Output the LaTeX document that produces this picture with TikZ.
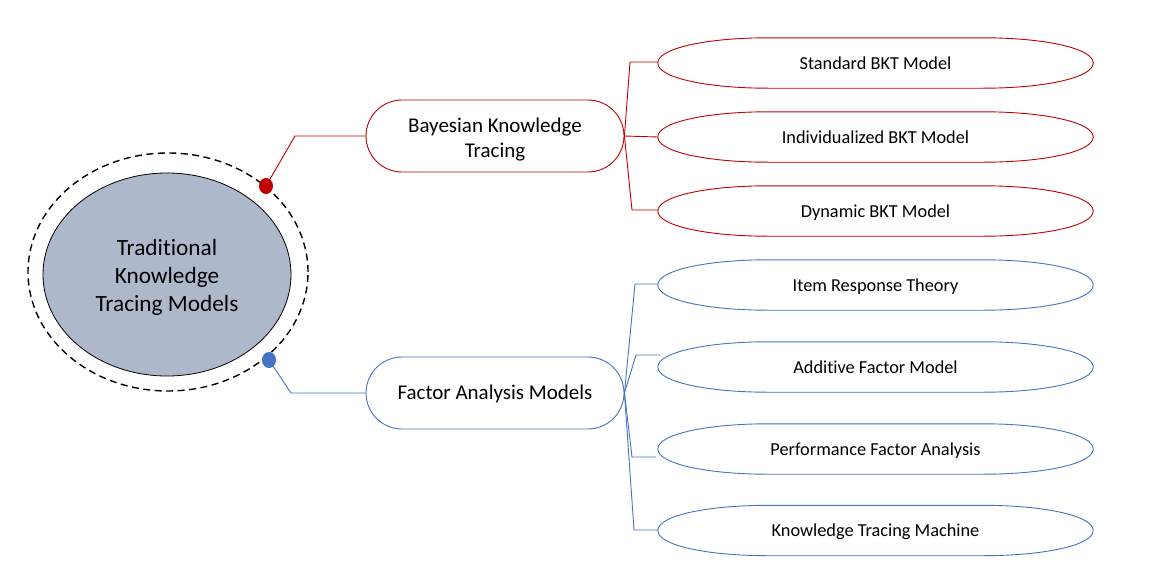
\documentclass[tikz,border=0pt]{standalone}
\usepackage{fontspec}
\setmainfont{Carlito}[Ligatures=NoCommon]
\usetikzlibrary{shapes.misc,shapes.geometric,calc}
\definecolor{kred}{HTML}{C00000}
\definecolor{kblue}{HTML}{4472C4}
\definecolor{kfill}{HTML}{ADB9CA}
\newcommand{\leafoutline}[2]{%
  \draw[#2] (#1.west) .. controls ($(#1.west)+(0,-15)$) and ($(#1.north west)+(50,0)$) .. ($(#1.north west)+(110,0)$)
    -- ($(#1.north east)+(-110,0)$) .. controls ($(#1.north east)+(-50,0)$) and ($(#1.east)+(0,-15)$) .. (#1.east)
    .. controls ($(#1.east)+(0,15)$) and ($(#1.south east)+(-50,0)$) .. ($(#1.south east)+(-110,0)$)
    -- ($(#1.south west)+(110,0)$) .. controls ($(#1.south west)+(50,0)$) and ($(#1.west)+(0,15)$) .. (#1.west) -- cycle;}
\begin{document}
\begin{tikzpicture}[x=1pt,y=-1pt,
  leafbox/.style={rectangle,draw=none,minimum width=435pt,minimum height=50pt,inner sep=0pt,text height=12.2pt,text depth=0pt,font=\fontsize{18.3}{22}\selectfont},
  midbox/.style={rounded rectangle,minimum width=258pt,minimum height=72pt,inner sep=0pt,line width=0.9pt,fill=white,align=center,font=\fontsize{21}{25}\selectfont},
  redline/.style={kred,line width=0.9pt},
  blueline/.style={kblue,line width=0.9pt},
  dotmark/.style={ellipse,minimum width=14pt,minimum height=16pt,inner sep=0pt}
]
\useasboundingbox (0,0) rectangle (1150,570);
% central
\node[ellipse,draw=black,dashed,dash pattern=on 7pt off 4.5pt,line width=1.4pt,minimum width=280pt,minimum height=238pt,inner sep=0pt] (outer) at (168,272) {};
\node[ellipse,draw=black,fill=kfill,line width=0.8pt,minimum width=248pt,minimum height=203pt,inner sep=0pt] (center) at (167,274.5) {};
\node[align=center,font=\fontsize{23.3}{28}\selectfont,inner sep=0pt] (ctext) at (167,277.5) {Traditional\\Knowledge\\Tracing Models};
% dots
\node[dotmark,fill=kred] (rdot) at (266,186) {};
\node[dotmark,fill=kblue] (bdot) at (269,360) {};
% mid nodes
\node[midbox,draw=kred] (bkt) at (495,136) {};
\node[align=center,font=\fontsize{21}{25}\selectfont,inner sep=0pt] (bkttext) at (495,139.5) {Bayesian Knowledge\\Tracing};
\node[midbox,draw=kblue,text height=13.8pt,text depth=0pt] (fam) at (495,393) {Factor Analysis Models};
% leaves
\node[leafbox] (l1) at (875.5,63) {Standard BKT Model};
\node[leafbox] (l2) at (875.5,137) {Individualized BKT Model};
\node[leafbox] (l3) at (875.5,211) {Dynamic BKT Model};
\node[leafbox] (l4) at (875.5,285) {Item Response Theory};
\node[leafbox] (l5) at (875.5,367) {Additive Factor Model};
\node[leafbox] (l6) at (875.5,449) {Performance Factor Analysis};
\node[leafbox] (l7) at (875.5,530.5) {Knowledge Tracing Machine};
\leafoutline{l1}{redline}
\leafoutline{l2}{redline}
\leafoutline{l3}{redline}
\leafoutline{l4}{blueline}
\leafoutline{l5}{blueline}
\leafoutline{l6}{blueline}
\leafoutline{l7}{blueline}
% connectors center to mid
\coordinate (rk) at (295,136);
\coordinate (bk) at (291,393);
\draw[redline] (rdot.center) -- (rk) -- (bkt.west);
\draw[blueline] (bdot.center) -- (bk) -- (fam.west);
% red branches
\coordinate (r1) at (630,62);
\coordinate (r3) at (632,210);
\draw[redline] (bkt.east) -- (r1) -- (l1.west |- r1);
\draw[redline] (bkt.east) -- (l2.west);
\draw[redline] (bkt.east) -- (r3) -- (l3.west |- r3);
% blue branches
\coordinate (b1) at (635,284);
\coordinate (b2) at (636,355);
\coordinate (b2e) at (660,355);
\coordinate (b3) at (632,457);
\coordinate (b3e) at (656,457);
\coordinate (b4) at (634,530);
\draw[blueline] (fam.east) -- (b1) -- (l4.west |- b1);
\draw[blueline] (fam.east) -- (b2) -- (b2e);
\draw[blueline] (fam.east) -- (b3) -- (b3e);
\draw[blueline] (fam.east) -- (b4) -- (l7.west |- b4);
\end{tikzpicture}
\end{document}
